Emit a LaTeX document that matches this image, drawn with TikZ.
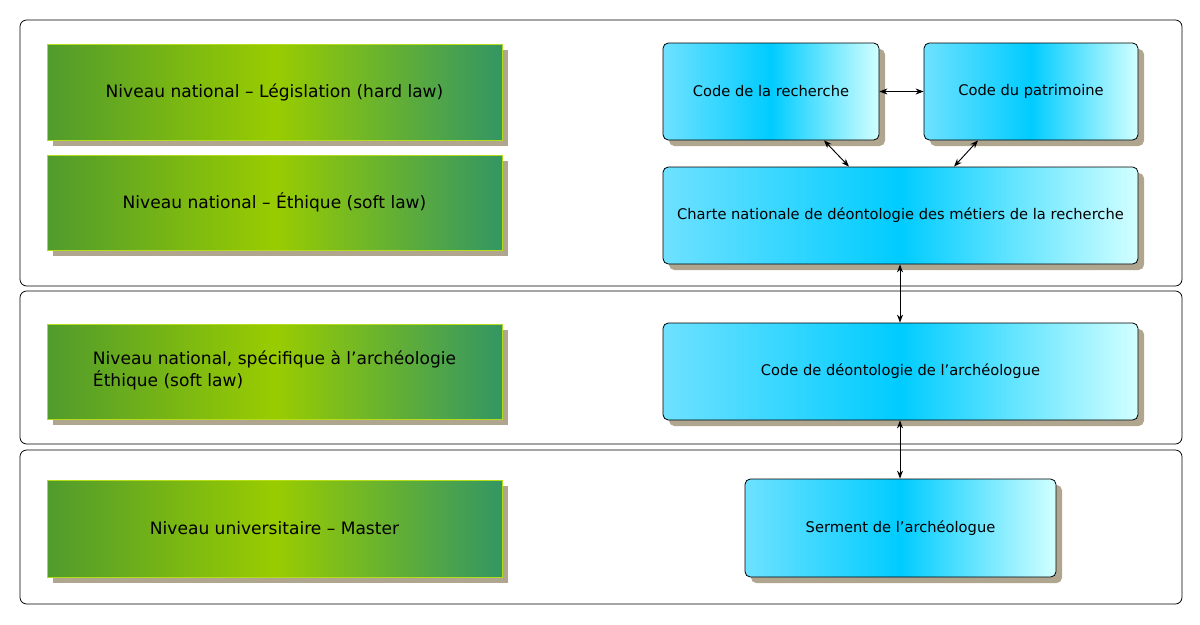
\documentclass[tikz,border=0pt]{standalone}
\usepackage{fontspec}
\setmainfont{DejaVu Sans}
\usetikzlibrary{arrows.meta}
\definecolor{shad}{HTML}{B0A58F}
\tikzset{
  panel/.style={draw=black, rounded corners=5, line width=0.6pt},
  gbox/.style={draw=yellow!70!green, line width=0.4pt, left color={rgb,255:red,80;green,155;blue,45}, right color={rgb,255:red,51;green,150;blue,100}, middle color={rgb,255:red,153;green,204;blue,0}, font=\fontsize{12.8}{16}\selectfont},
  bbox/.style={draw=black, rounded corners=4, line width=0.6pt, left color={rgb,255:red,110;green,225;blue,255}, right color={rgb,255:red,210;green,255;blue,255}, middle color={rgb,255:red,0;green,204;blue,255}, font=\fontsize{11}{13}\selectfont, align=center},
  shd/.style={fill=shad},
  link/.style={{Stealth[length=6pt]}-{Stealth[length=6pt]}, line width=0.7pt}
}
\newcommand{\ap}{{\char"27}}
\newcommand{\gb}[6]{% name x1 y1 x2 y2 text
  \fill[shd] (#2+6,#3+6) rectangle (#4+6,#5+6);
  \node[gbox, minimum width=(#4-#2)*0.75pt, minimum height=(#5-#3)*0.75pt, inner sep=0] (#1) at ({(#2+#4)/2},{(#3+#5)/2}) {#6};}
\newcommand{\bb}[6]{%
  \fill[shd, rounded corners=4] (#2+6,#3+6) rectangle (#4+6,#5+6);
  \node[bbox, minimum width=(#4-#2)*0.75pt, minimum height=(#5-#3)*0.75pt, inner sep=0] (#1) at ({(#2+#4)/2},{(#3+#5)/2}) {#6};}
\begin{document}
\begin{tikzpicture}[x=0.75pt,y=-0.75pt]
\useasboundingbox (0,0) rectangle (1200,625);
\draw[panel] (20,20) rectangle (1182,286);
\draw[panel] (20,291) rectangle (1182,444);
\draw[panel] (20,450) rectangle (1182,604);
\gb{g1}{47}{44}{502}{140}{Niveau national – Législation (hard law)}
\gb{g2}{47}{155}{502}{250}{Niveau national – Éthique (soft law)}
\gb{g3}{47}{324}{502}{419}{\begin{tabular}{@{}l@{}}Niveau national, spécifique à l\ap archéologie\\Éthique (soft law)\end{tabular}}
\gb{g4}{47}{480}{502}{577}{Niveau universitaire – Master}
\bb{cr}{663}{43}{879}{140}{Code de la recherche}
\bb{cp}{924}{43}{1138}{140}{Code du patrimoine}
\bb{ch}{663}{167}{1138}{264}{Charte nationale de déontologie des métiers de la recherche}
\bb{cd}{663}{323}{1138}{420}{Code de déontologie de l\ap archéologue}
\bb{se}{745}{479}{1056}{577}{Serment de l\ap archéologue}
\draw[link] (cr.east) -- (cp.west);
\draw[link] (cr.south -| 824,0) -- (ch.north -| 849,0);
\draw[link] (cp.south -| 978,0) -- (ch.north -| 954,0);
\draw[link] (ch.south -| 900,0) -- (cd.north -| 900,0);
\draw[link] (cd.south -| 900,0) -- (se.north -| 900,0);
\end{tikzpicture}
\end{document}
